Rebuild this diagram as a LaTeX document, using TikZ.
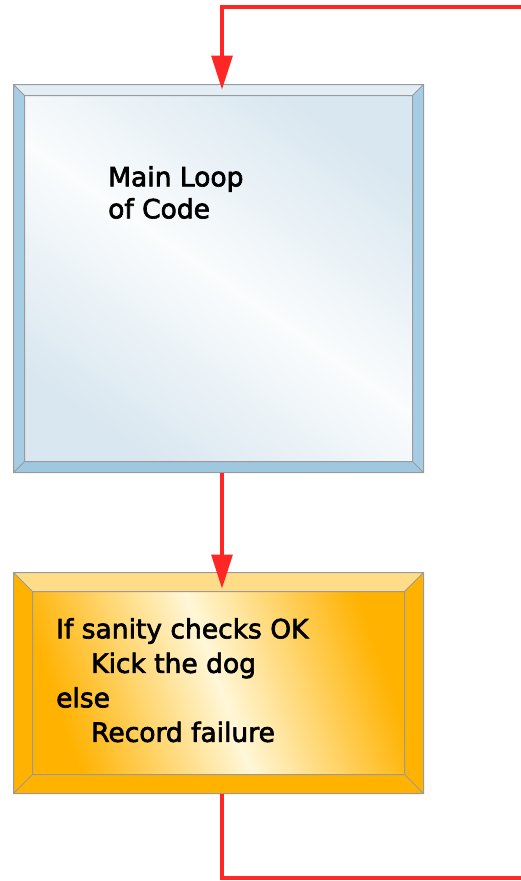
\documentclass[tikz,border=0pt]{standalone}
\usepackage{fontspec}
\setmainfont{DejaVu Sans}
\newfontfamily\boxfont[FakeBold=2.5]{DejaVu Sans}
\usetikzlibrary{arrows.meta,calc}
\definecolor{wirered}{HTML}{FF2626}
\definecolor{edgegray}{HTML}{9A9A9A}
\definecolor{loopside}{HTML}{A7CDE4}
\definecolor{looptop}{HTML}{E2EDF4}
\definecolor{loopbottom}{HTML}{9FC7DF}
\definecolor{loopface}{HTML}{D9E7F0}
\definecolor{loopshine}{HTML}{FAFCFD}
\definecolor{gold}{HTML}{FFB200}
\definecolor{goldtop}{HTML}{FFDC88}
\definecolor{goldshine}{HTML}{FFF7D8}
\begin{document}
\begin{tikzpicture}[x=1pt,y=-1pt,
   box/.style={draw=edgegray,line width=1pt,minimum width=409pt,inner sep=0pt},
   wire/.style={draw=wirered,line width=3.2pt},
   flow/.style={wire,-{Triangle[length=34pt,width=21pt]}},
   boxtext/.style={anchor=north west,align=left,inner sep=0pt,
     font=\boxfont\fontsize{26.5pt}{#1}\selectfont},
   boxtext/.default=32pt]
 \useasboundingbox (0,0) rectangle (521,881);
 \clip (0,0) rectangle (521,881);
 \node[box,minimum height=387pt,fill=loopbottom] (mainloop) at (218.5,278.5) {};
 \node[box,minimum height=220pt,fill=gold] (sanity) at (218.5,683) {};
 \foreach \B/\w/\L/\T/\D/\F/\M/\A in {mainloop/11/loopside/looptop/loopbottom/loopface/loopshine/-35,
                                      sanity/19/gold/goldtop/gold/gold/goldshine/-70}
 {\coordinate (\B-nw) at ($(\B.north west)+(\w,\w)$);
  \coordinate (\B-ne) at ($(\B.north east)+(-\w,\w)$);
  \coordinate (\B-se) at ($(\B.south east)+(-\w,-\w)$);
  \coordinate (\B-sw) at ($(\B.south west)+(\w,-\w)$);
  \fill[\L] (\B.north west) -- (\B-nw) -- (\B-sw) -- (\B.south west) -- cycle;
  \fill[\L] (\B.north east) -- (\B-ne) -- (\B-se) -- (\B.south east) -- cycle;
  \fill[\T] (\B.north west) -- (\B-nw) -- (\B-ne) -- (\B.north east) -- cycle;
  \fill[\D] (\B.south west) -- (\B-sw) -- (\B-se) -- (\B.south east) -- cycle;
  \shade[left color=\F,right color=\F,middle color=\M,shading angle=\A] (\B-nw) rectangle (\B-se);
  \draw[edgegray,line width=1pt] (\B.north west) rectangle (\B.south east)
   (\B-nw) rectangle (\B-se)
   (\B.north west) -- (\B-nw) (\B.north east) -- (\B-ne)
   (\B.south east) -- (\B-se) (\B.south west) -- (\B-sw);
 }
 \node[boxtext] (looptext) at (108,166) {Main Loop\\of Code};
 \node[boxtext=34.5pt] (sanitytext) at (56,618)
   {If sanity checks OK\\\hspace*{35pt}Kick the dog\\else\\\hspace*{35pt}Record failure};
 \coordinate (backlow) at (540,878);
 \coordinate (backhigh) at (540,7);
 \draw[flow,shorten >=-5pt] ([xshift=3.5pt]sanity.south) |- (backlow) -- (backhigh)
   -| ([xshift=3.5pt]mainloop.north);
 \draw[flow,shorten >=-16pt] ([xshift=3.5pt]mainloop.south) -- ([xshift=3.5pt]sanity.north);
\end{tikzpicture}
\end{document}
